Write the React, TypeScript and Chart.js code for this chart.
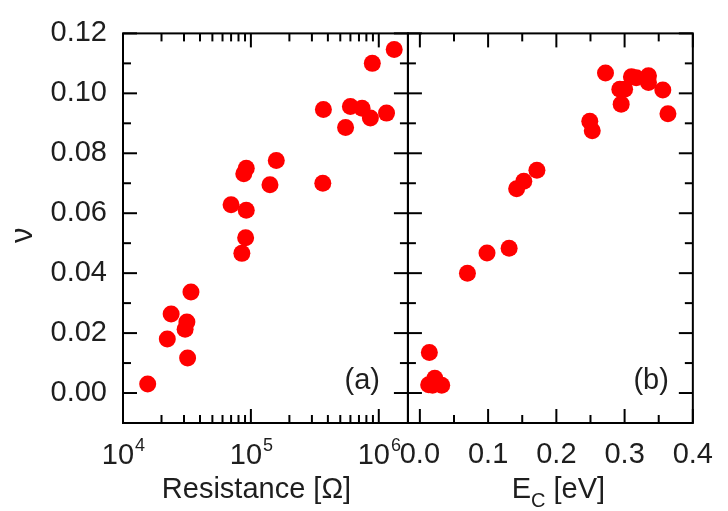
import React, { useEffect, useRef } from 'react';
import { Chart, registerables } from 'chart.js';

Chart.register(...registerables);

// Panel (a): resistance [Ohm] vs nu
const resistance = [1.32e6, 8.9e5, 3.69e5, 6.0e5, 7.4e5, 8.6e5, 1.15e6, 5.5e5, 1.58e5, 9.2e4, 8.8e4, 1.41e5, 3.65e5, 7.0e4, 9.2e4, 9.1e4, 8.5e4, 3.4e4, 2.38e4, 3.16e4, 3.06e4, 2.22e4, 3.2e4, 1.56e4];
const nuA = [0.1146, 0.11, 0.0946, 0.0956, 0.095, 0.0918, 0.0934, 0.0886, 0.0776, 0.075, 0.0732, 0.0695, 0.07, 0.0628, 0.061, 0.0518, 0.0466, 0.0337, 0.0264, 0.0237, 0.0213, 0.018, 0.0117, 0.003];

// Panel (b): E_C [eV] vs nu
const energy = [0.272, 0.31, 0.317, 0.335, 0.335, 0.293, 0.3, 0.356, 0.295, 0.3635, 0.249, 0.2526, 0.1715, 0.1523, 0.1418, 0.1308, 0.0984, 0.0697, 0.0139, 0.0219, 0.0129, 0.0186, 0.032];
const nuB = [0.1068, 0.1055, 0.1052, 0.1059, 0.1036, 0.1014, 0.1014, 0.1011, 0.0964, 0.0932, 0.0907, 0.0875, 0.0743, 0.0707, 0.0682, 0.0483, 0.0467, 0.04, 0.0135, 0.0049, 0.0028, 0.0026, 0.0026];

// Tick labels
const yTicks = [0, 0.02, 0.04, 0.06, 0.08, 0.1, 0.12];
const resTicks = [1e4, 1e5, 1e6];
const energyTicks = [0, 0.1, 0.2, 0.3, 0.4];
const yMinorStep = 0.01;
const energyMinorStep = 0.05;

const FAMILY = "'Liberation Sans', Arial, Helvetica, sans-serif";
const TEXT = '#1e1e1e';
const FS = 29;

const framePlugin = {
  id: 'frameTicks',
  afterDatasetsDraw(chart: any) {
    const ctx = chart.ctx as CanvasRenderingContext2D;
    const ys = chart.scales.y;
    const xa = chart.scales.x;
    const xb = chart.scales.x2;
    const T = ys.top;
    const B = ys.bottom;
    const MAJ = 14;
    const MIN = 8;
    ctx.save();
    ctx.strokeStyle = '#000';
    ctx.lineWidth = 2;
    const line = (x1: number, y1: number, x2: number, y2: number) => {
      ctx.beginPath();
      ctx.moveTo(x1, y1);
      ctx.lineTo(x2, y2);
      ctx.stroke();
    };
    const yVals: { v: number; major: boolean }[] = [];
    for (let i = 0; i <= 12; i++) {
      const v = i * yMinorStep;
      yVals.push({ v, major: i % 2 === 0 });
    }
    const xaVals: { v: number; major: boolean }[] = [];
    for (let e = 4; e <= 6; e++) {
      for (let k = 1; k <= 9; k++) {
        const v = k * Math.pow(10, e);
        if (v >= xa.min && v <= xa.max) xaVals.push({ v, major: k === 1 });
      }
    }
    const xbVals: { v: number; major: boolean }[] = [];
    for (let i = 0; i <= 8; i++) {
      const v = i * energyMinorStep;
      if (v >= xb.min && v <= xb.max + 1e-9) xbVals.push({ v, major: i % 2 === 0 });
    }
    const panels = [
      { s: xa, vals: xaVals },
      { s: xb, vals: xbVals },
    ];
    for (const p of panels) {
      const L = p.s.left;
      const R = p.s.right;
      ctx.strokeRect(L, T, R - L, B - T);
      for (const t of yVals) {
        const py = ys.getPixelForValue(t.v);
        const len = t.major ? MAJ : MIN;
        line(L, py, L + len, py);
        line(R, py, R - len, py);
      }
      for (const t of p.vals) {
        const px = p.s.getPixelForValue(t.v);
        const len = t.major ? MAJ : MIN;
        line(px, B, px, B - len);
        line(px, T, px, T + len);
      }
    }

    ctx.fillStyle = TEXT;

    // Log-axis tick labels 10^n with real superscripts
    ctx.textAlign = 'left';
    ctx.textBaseline = 'alphabetic';
    for (const v of resTicks) {
      const px = xa.getPixelForValue(v);
      const exp = String(Math.round(Math.log10(v)));
      ctx.font = `${FS}px ${FAMILY}`;
      const w10 = ctx.measureText('10').width;
      ctx.font = `18px ${FAMILY}`;
      const wExp = ctx.measureText(exp).width;
      const sx = px - (w10 + wExp) / 2;
      ctx.font = `${FS}px ${FAMILY}`;
      ctx.fillText('10', sx, B + 41);
      ctx.font = `18px ${FAMILY}`;
      ctx.fillText(exp, sx + w10 + 1, B + 28);
    }

    // Panel labels
    ctx.font = `${FS}px ${FAMILY}`;
    ctx.textAlign = 'right';
    ctx.textBaseline = 'middle';
    ctx.fillText('(a)', xa.right - 28, B - 42);
    ctx.fillText('(b)', xb.right - 24, B - 42);

    // X titles
    const base = B + 75;
    ctx.textBaseline = 'alphabetic';
    ctx.textAlign = 'center';
    ctx.fillText('Resistance [Ω]', (xa.left + xa.right) / 2 - 9, base);

    ctx.textAlign = 'left';
    ctx.font = `${FS}px ${FAMILY}`;
    const wE = ctx.measureText('E').width;
    const wRest = ctx.measureText(' [eV]').width;
    ctx.font = `20px ${FAMILY}`;
    const wC = ctx.measureText('C').width;
    const total = wE + wC + wRest;
    let sx = (xb.left + xb.right) / 2 + 8 - total / 2;
    ctx.font = `${FS}px ${FAMILY}`;
    ctx.fillText('E', sx, base);
    sx += wE;
    ctx.font = `20px ${FAMILY}`;
    ctx.fillText('C', sx, base + 9);
    sx += wC;
    ctx.font = `${FS}px ${FAMILY}`;
    ctx.fillText(' [eV]', sx, base);

    // Y title (rotated nu)
    ctx.save();
    ctx.translate(23, (T + B) / 2 + 7);
    ctx.rotate(-Math.PI / 2);
    ctx.textAlign = 'center';
    ctx.textBaseline = 'middle';
    ctx.font = `31px ${FAMILY}`;
    ctx.fillText('ν', 0, 0);
    ctx.restore();

    ctx.restore();
  },
};

const tickFont = { family: FAMILY, size: FS };

export default function App() {
  const ref = useRef<HTMLCanvasElement | null>(null);
  useEffect(() => {
    if (!ref.current) return;
    const chart = new Chart(ref.current, {
      type: 'scatter',
      data: {
        datasets: [
          {
            label: '(a)',
            data: resistance.map((r, i) => ({ x: r, y: nuA[i] })),
            xAxisID: 'x',
            yAxisID: 'y',
            pointRadius: 8.5,
            pointHoverRadius: 8.5,
            backgroundColor: '#ff0000',
            borderWidth: 0,
            clip: false,
          } as any,
          {
            label: '(b)',
            data: energy.map((e, i) => ({ x: e, y: nuB[i] })),
            xAxisID: 'x2',
            yAxisID: 'y',
            pointRadius: 8.5,
            pointHoverRadius: 8.5,
            backgroundColor: '#ff0000',
            borderWidth: 0,
            clip: false,
          } as any,
        ],
      },
      options: {
        animation: false,
        responsive: false,
        maintainAspectRatio: false,
        layout: { padding: { left: 0, top: 19, right: 22, bottom: 0 } },
        plugins: { legend: { display: false }, tooltip: { enabled: false } },
        scales: {
          x: {
            type: 'logarithmic',
            position: 'bottom',
            stack: 'panels',
            stackWeight: 1,
            min: 1e4,
            max: 1.69e6,
            grid: { display: false, drawTicks: false },
            border: { display: false },
            afterBuildTicks: (s: any) => {
              s.ticks = resTicks.map((v) => ({ value: v }));
            },
            afterFit: (s: any) => {
              s.height = 88;
            },
            ticks: { display: false },
          },
          x2: {
            type: 'linear',
            axis: 'x',
            position: 'bottom',
            stack: 'panels',
            stackWeight: 1,
            min: -0.0175,
            max: 0.4,
            grid: { display: false, drawTicks: false },
            border: { display: false },
            afterBuildTicks: (s: any) => {
              s.ticks = energyTicks.map((v) => ({ value: v }));
            },
            afterFit: (s: any) => {
              s.height = 88;
            },
            ticks: {
              autoSkip: false,
              maxRotation: 0,
              padding: 15,
              color: TEXT,
              font: tickFont,
              callback: (v: any) => Number(v).toFixed(1),
            },
          },
          y: {
            type: 'linear',
            position: 'left',
            min: -0.01,
            max: 0.12,
            grid: { display: false, drawTicks: false },
            border: { display: false },
            afterBuildTicks: (s: any) => {
              s.ticks = yTicks.map((v) => ({ value: v }));
            },
            afterFit: (s: any) => {
              s.width = 123;
            },
            ticks: {
              autoSkip: false,
              padding: 16,
              color: TEXT,
              font: tickFont,
              callback: (v: any) => Number(v).toFixed(2),
            },
          },
        } as any,
      },
      plugins: [framePlugin],
    });
    return () => chart.destroy();
  }, []);
  return (
    <div style={{ position: 'fixed', left: 0, top: 0, width: 728, height: 511, background: '#fff' }}>
      <canvas ref={ref} width={728} height={511} style={{ display: 'block' }} />
    </div>
  );
}
